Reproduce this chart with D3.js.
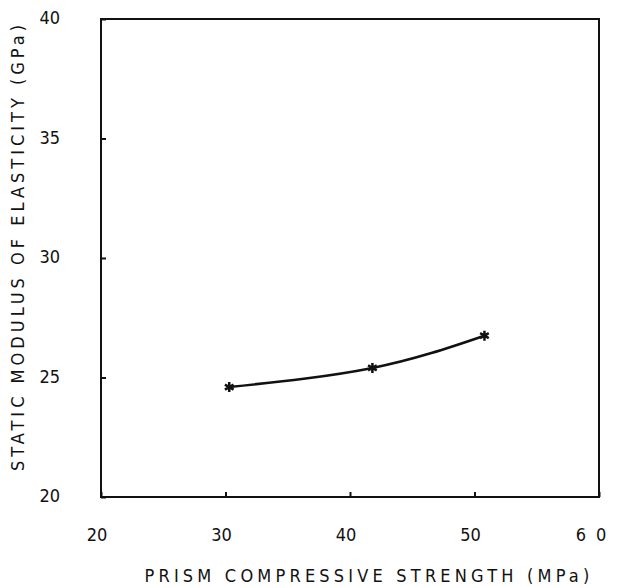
<!DOCTYPE html>
<html>
<head>
<meta charset="utf-8">
<script src="https://cdn.jsdelivr.net/npm/d3@7"></script>
<style>
  body { margin: 0; background: #fff; }
  text { font-family: "DejaVu Sans Condensed", "DejaVu Sans", sans-serif; fill: #111; }
</style>
</head>
<body>
<div id="chart"></div>
<script>
const strength = [30.3, 41.8, 50.8];
const modulus = [24.6, 25.4, 26.75];
const xTicks = [20, 30, 40, 50, 60];
const yTicks = [20, 25, 30, 35, 40];

const width = 619;
const height = 588;
const margin = { top: 19, right: 20, bottom: 91, left: 101 };

const svg = d3.select('#chart').append('svg').attr('width', width).attr('height', height);

const x = d3.scaleLinear().domain([20, 60]).range([margin.left, width - margin.right]);
const y = d3.scaleLinear().domain([20, 40]).range([height - margin.bottom, margin.top]);

// frame
svg.append('rect')
  .attr('x', x(20)).attr('y', y(40))
  .attr('width', x(60) - x(20)).attr('height', y(20) - y(40))
  .attr('fill', 'none').attr('stroke', '#111').attr('stroke-width', 2);

// inward ticks
svg.append('g').attr('transform', `translate(0,${y(20)})`)
  .call(d3.axisBottom(x).tickValues(xTicks).tickSizeInner(-5).tickSizeOuter(0).tickFormat(''))
  .call((g) => g.select('.domain').remove())
  .call((g) => g.selectAll('line').attr('stroke', '#111').attr('stroke-width', 2));
svg.append('g').attr('transform', `translate(${x(20)},0)`)
  .call(d3.axisLeft(y).tickValues(yTicks).tickSizeInner(-5).tickSizeOuter(0).tickFormat(''))
  .call((g) => g.select('.domain').remove())
  .call((g) => g.selectAll('line').attr('stroke', '#111').attr('stroke-width', 2));

// tick labels
svg.append('g').selectAll('text').data(xTicks).join('text')
  .attr('x', (d) => x(d) - 4 + (d === 60 ? 1 : 0)).attr('y', y(20) + 44)
  .attr('text-anchor', 'middle').attr('font-size', 18)
  .attr('letter-spacing', (d) => (d === 60 ? 10 : 0))
  .text((d) => d);
svg.append('g').selectAll('text').data(yTicks).join('text')
  .attr('x', x(20) - 41).attr('y', (d) => y(d) + 5)
  .attr('text-anchor', 'end').attr('font-size', 18)
  .text((d) => d);

// axis titles
svg.append('text')
  .attr('x', 369).attr('y', 582)
  .attr('text-anchor', 'middle').attr('font-size', 18).attr('letter-spacing', 4.2)
  .text('PRISM COMPRESSIVE STRENGTH (MPa)');
svg.append('text')
  .attr('transform', 'translate(24,246) rotate(-90)')
  .attr('text-anchor', 'middle').attr('font-size', 18).attr('letter-spacing', 4)
  .text('STATIC MODULUS OF ELASTICITY (GPa)');

// curve
const pts = strength.map((s, i) => [s, modulus[i]]);
svg.append('path')
  .datum(pts)
  .attr('fill', 'none').attr('stroke', '#111').attr('stroke-width', 2.6)
  .attr('d', d3.line().x((d) => x(d[0])).y((d) => y(d[1])).curve(d3.curveNatural));

svg.append('g').selectAll('path').data(pts).join('path')
  .attr('transform', (d) => `translate(${x(d[0])},${y(d[1])})`)
  .attr('d', d3.symbol(d3.symbolAsterisk, 70))
  .attr('fill', 'none').attr('stroke', '#111').attr('stroke-width', 2.5);
</script>
</body>
</html>
